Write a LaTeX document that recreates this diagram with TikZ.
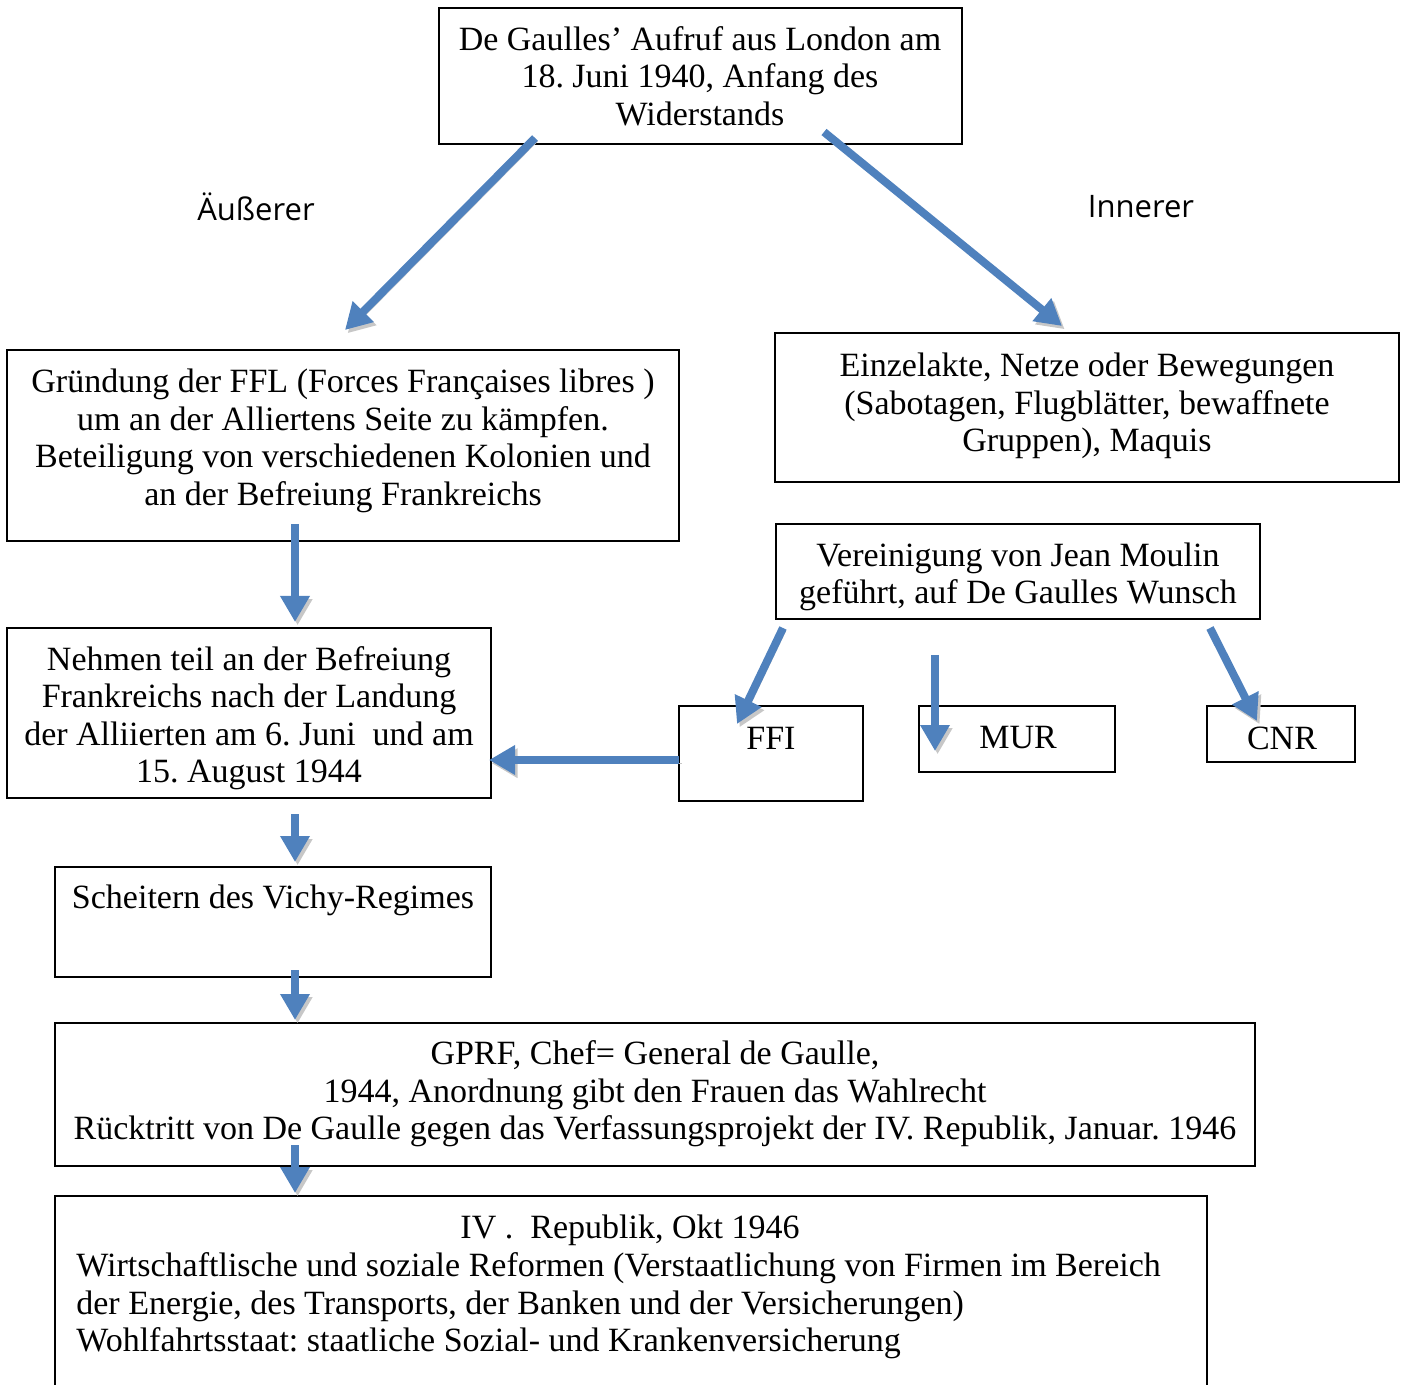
\documentclass[tikz,border=0pt]{standalone}
\usepackage{fontspec}
\setmainfont{Liberation Serif}
\newfontfamily\labelfont{Open Sans}
\usetikzlibrary{arrows.meta}
\definecolor{arrowblue}{HTML}{4F81BD}
\frenchspacing
\tikzset{
  box/.style={draw, line width=0.8pt, inner sep=0pt, outer sep=0pt},
  txt/.style={inner sep=0pt, align=center, font=\frenchspacing\fontsize{17}{18.75}\selectfont},
  lab/.style={inner sep=0pt, font=\labelfont\fontsize{15.5}{18}\selectfont},
  bluearrow/.style={draw=arrowblue, line width=4pt,
    -{Triangle[width=14pt,length=13pt]},
    preaction={draw=black!22, transform canvas={shift={(1.3pt,-1.6pt)}}}},
}
\begin{document}
\begin{tikzpicture}[x=0.5pt,y=-0.5pt]
\useasboundingbox (0,0) rectangle (1404,1385);
% boxes
\node[box, minimum width=261.5pt, minimum height=68pt] (top) at (700.5,76) {};
\node[box, minimum width=336pt, minimum height=95.5pt] (ffl) at (343,445.5) {};
\node[box, minimum width=312pt, minimum height=74.5pt] (einz) at (1087,407.5) {};
\node[box, minimum width=242pt, minimum height=47.5pt] (ver) at (1018,571.5) {};
\node[box, minimum width=242pt, minimum height=85pt] (nehm) at (249,713) {};
\node[box, minimum width=92pt, minimum height=47.5pt] (ffi) at (771,753.5) {};
\node[box, minimum width=98pt, minimum height=33pt] (mur) at (1017,739) {};
\node[box, minimum width=74pt, minimum height=28pt] (cnr) at (1281,734) {};
\node[box, minimum width=218pt, minimum height=55pt] (sch) at (273,922) {};
\node[box, minimum width=600pt, minimum height=71.5pt] (gprf) at (655,1094.5) {};
\node[box, minimum width=576pt, minimum height=98pt] (iv) at (631,1294) {};
% texts
\node[txt] (ttop) at (700,76) {De Gaulles’ Aufruf aus London am\\18. Juni 1940, Anfang des\\Widerstands};
\node[txt] (tffl) at (343,441) {Gründung der FFL (Forces Françaises libres )\\um an der Alliertens Seite zu kämpfen.\\Beteiligung von verschiedenen Kolonien und\\an der Befreiung Frankreichs};
\node[txt] (teinz) at (1087,406) {Einzelakte, Netze oder Bewegungen\\(Sabotagen, Flugblätter, bewaffnete\\Gruppen), Maquis};
\node[txt] (tver) at (1018,577) {Vereinigung von Jean Moulin\\geführt, auf De Gaulles Wunsch};
\node[txt] (tnehm) at (249,718) {Nehmen teil an der Befreiung\\Frankreichs nach der Landung\\der Alliierten am 6. Juni\ \ und am\\15. August 1944};
\node[txt] (tffi) at (771,738) {FFI};
\node[txt] (tmur) at (1018,738) {MUR};
\node[txt] (tcnr) at (1282,738) {CNR};
\node[txt] (tsch) at (273,900) {Scheitern des Vichy-Regimes};
\node[txt] (tgprf) at (655,1094) {GPRF, Chef= General de Gaulle,\\1944, Anordnung gibt den Frauen das Wahlrecht\\Rücktritt von De Gaulle gegen das Verfassungsprojekt der IV. Republik, Januar. 1946};
\node[txt] (tiv1) at (630,1230) {IV .\ \ Republik, Okt 1946};
\node[txt, align=left, anchor=west] (tiv2) at (76,1306) {Wirtschaftlische und soziale Reformen (Verstaatlichung von Firmen im Bereich\\der Energie, des Transports, der Banken und der Versicherungen)\\Wohlfahrtsstaat: staatliche Sozial- und Krankenversicherung};
% labels
\node[lab] (lab1) at (256,207) {Äußerer};
\node[lab] (lab2) at (1141,207) {Innerer};
% arrow coordinates
\coordinate (a1s) at (535,138); \coordinate (a1e) at (345,330);
\coordinate (a2s) at (824,132); \coordinate (a2e) at (1062,326);
\coordinate (a3s) at (295,524); \coordinate (a3e) at (295,622);
\coordinate (a4s) at (295,814); \coordinate (a4e) at (295,862);
\coordinate (a5s) at (295,970); \coordinate (a5e) at (295,1020);
\coordinate (a6s) at (295,1145); \coordinate (a6e) at (295,1193);
\coordinate (a7s) at (679,760); \coordinate (a7e) at (489,760);
\coordinate (a8s) at (783,628); \coordinate (a8e) at (737,724);
\coordinate (a9s) at (935,655); \coordinate (a9e) at (935,751);
\coordinate (a10s) at (1210,628); \coordinate (a10e) at (1257,721);
% arrows
\draw[bluearrow] (a1s) -- (a1e);
\draw[bluearrow] (a2s) -- (a2e);
\draw[bluearrow] (a3s) -- (a3e);
\draw[bluearrow] (a4s) -- (a4e);
\draw[bluearrow] (a5s) -- (a5e);
\draw[bluearrow] (a6s) -- (a6e);
\draw[bluearrow] (a7s) -- (a7e);
\draw[bluearrow] (a8s) -- (a8e);
\draw[bluearrow] (a9s) -- (a9e);
\draw[bluearrow] (a10s) -- (a10e);
\end{tikzpicture}
\end{document}
